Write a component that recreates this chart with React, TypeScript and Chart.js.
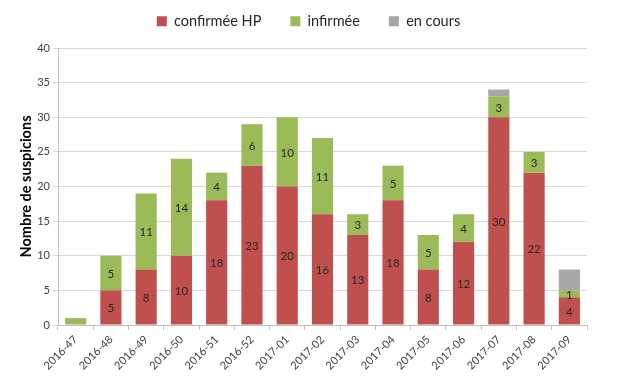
import React, { useEffect, useRef } from "react";
import { Chart, registerables } from "chart.js";

Chart.register(...registerables);

const categories = [
  "2016-47", "2016-48", "2016-49", "2016-50", "2016-51", "2016-52", "2017-01",
  "2017-02", "2017-03", "2017-04", "2017-05", "2017-06", "2017-07", "2017-08", "2017-09",
];
const confirmee = [0, 5, 8, 10, 18, 23, 20, 16, 13, 18, 8, 12, 30, 22, 4];
const infirmee = [1, 5, 11, 14, 4, 6, 10, 11, 3, 5, 5, 4, 3, 3, 1];
const enCours = [0, 0, 0, 0, 0, 0, 0, 0, 0, 0, 0, 0, 1, 0, 3];
const infirmeeLabelShown = [false, true, true, true, true, true, true, true, true, true, true, true, true, true, true];
const yTicks = [0, 5, 10, 15, 20, 25, 30, 35, 40];

const FONT = "Lato, 'Liberation Sans', sans-serif";

const labelPlugin = {
  id: "barLabels",
  afterDatasetsDraw(chart: any) {
    const ctx = chart.ctx;
    ctx.save();
    ctx.font = `11.5px ${FONT}`;
    ctx.fillStyle = "#262626";
    ctx.textAlign = "center";
    ctx.textBaseline = "middle";
    [0, 1].forEach((di) => {
      const meta = chart.getDatasetMeta(di);
      const data = chart.data.datasets[di].data as number[];
      meta.data.forEach((el: any, i: number) => {
        const v = data[i];
        if (!v) return;
        if (di === 1 && !infirmeeLabelShown[i]) return;
        ctx.fillText(String(v), el.x, (el.y + el.base) / 2 + 1);
      });
    });
    ctx.restore();
  },
};

const legendFitPlugin = {
  id: "legendFit",
  afterInit(chart: any) {
    const lg = chart.legend;
    if (!lg) return;
    const orig = lg.fit;
    lg.fit = function () {
      orig.call(this);
      this.height = 63;
    };
  },
};

export default function App() {
  const ref = useRef<HTMLCanvasElement>(null);
  useEffect(() => {
    document.body.style.margin = "0";
    const chart = new Chart(ref.current!, {
      type: "bar",
      data: {
        labels: categories,
        datasets: [
          { label: "confirmée HP", data: confirmee, backgroundColor: "#C0504D", barPercentage: 0.6, categoryPercentage: 1 },
          { label: "infirmée", data: infirmee, backgroundColor: "#9BBB59", barPercentage: 0.6, categoryPercentage: 1 },
          { label: "en cours", data: enCours, backgroundColor: "#A6A6A6", barPercentage: 0.6, categoryPercentage: 1 },
        ],
      },
      options: {
        animation: false,
        responsive: false,
        layout: { padding: { top: -15, right: 0, left: 0, bottom: 0 } },
        plugins: {
          legend: {
            position: "top",
            labels: {
              font: { family: FONT, size: 14.5 },
              color: "#262626",
              boxWidth: 10,
              boxHeight: 10,
              padding: 29,
            },
          },
          tooltip: { enabled: false },
        },
        scales: {
          x: {
            stacked: true,
            grid: { offset: true, drawOnChartArea: false, color: "#BFBFBF", tickLength: 5 },
            border: { color: "#BFBFBF" },
            ticks: {
              font: { family: FONT, size: 11 },
              color: "#404040",
              maxRotation: 45,
              minRotation: 45,
              autoSkip: false,
            },
            afterFit(scale: any) {
              scale.height = 65;
            },
          },
          y: {
            stacked: true,
            min: 0,
            max: 40,
            afterBuildTicks(scale: any) {
              scale.ticks = yTicks.map((v) => ({ value: v }));
            },
            grid: { color: "#D9D9D9", tickLength: 5 },
            border: { color: "#BFBFBF" },
            ticks: { font: { family: FONT, size: 11 }, color: "#404040", padding: 3 },
            title: {
              display: true,
              text: "Nombre de suspicions",
              font: { family: FONT, size: 14.5, weight: "bold" },
              color: "#000000",
              padding: { top: 18, bottom: 0 },
            },
            afterFit(scale: any) {
              scale.width = 58;
            },
          },
          yRight: {
            position: "right",
            display: true,
            grid: { display: false, drawTicks: false },
            border: { display: false },
            ticks: { display: false },
            afterFit(scale: any) {
              scale.width = 30;
            },
          },
        },
      },
      plugins: [labelPlugin, legendFitPlugin],
    });
    return () => chart.destroy();
  }, []);
  return (
    <div style={{ width: 617, height: 390 }}>
      <canvas ref={ref} width={617} height={390} style={{ display: "block" }} />
    </div>
  );
}
